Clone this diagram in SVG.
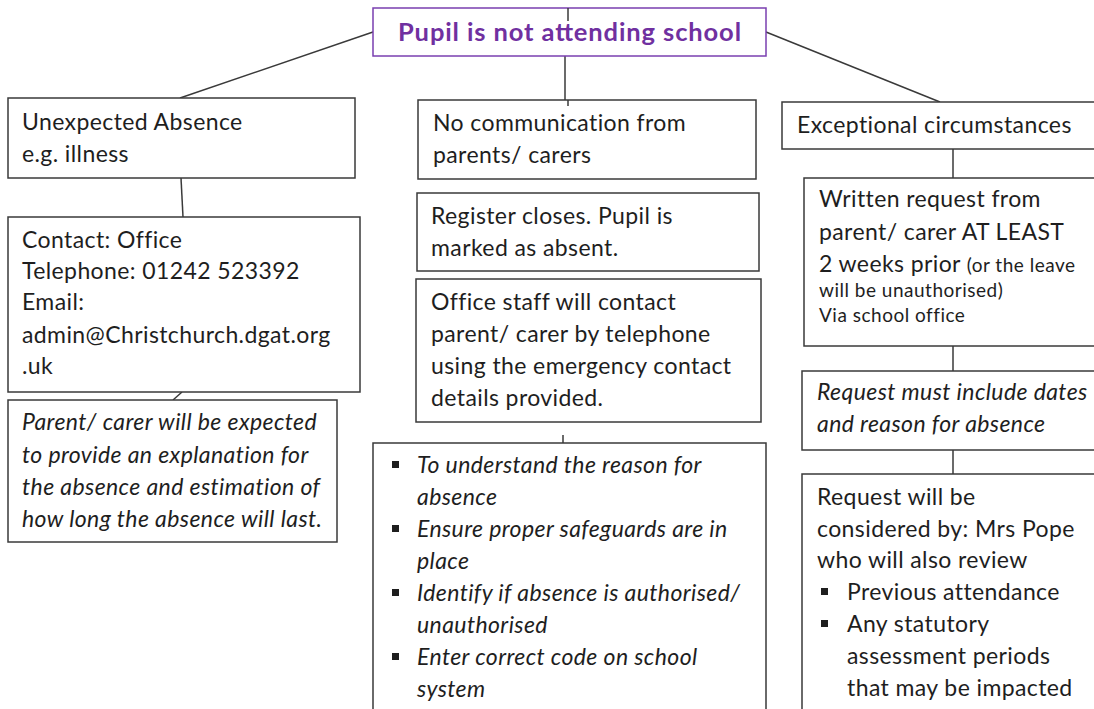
<svg xmlns="http://www.w3.org/2000/svg" width="1094" height="709" viewBox="0 0 1094 709">
<style>
.box{fill:#fff;stroke:#3a3a3a;stroke-width:1.5}
.t{font-family:Lato,"Open Sans",sans-serif;font-size:23px;letter-spacing:0.4px;fill:#1e1e1e}
.i{font-style:italic}
.s{font-size:19px;letter-spacing:0.5px}
.c{stroke:#3a3a3a;stroke-width:1.5;fill:none}
.b{fill:#1e1e1e}
</style>
<rect width="1094" height="709" fill="#fff"/>
<g id="connectors">
<line class="c" x1="373" y1="32" x2="180" y2="98"/>
<line class="c" x1="766" y1="32" x2="940" y2="102"/>
<line class="c" x1="565" y1="56" x2="565" y2="100"/>
<line class="c" x1="181" y1="178" x2="183" y2="217"/>
<line class="c" x1="182" y1="392" x2="173" y2="400"/>
<line class="c" x1="563" y1="435" x2="563" y2="443"/>
<line class="c" x1="953" y1="149" x2="953" y2="178"/>
<line class="c" x1="953" y1="346" x2="953" y2="371"/>
<line class="c" x1="953" y1="450" x2="953" y2="474"/>
</g>
<g id="top">
<rect x="373" y="8" width="393" height="48" fill="#fff" stroke="#7a3fb0" stroke-width="1.5"/>
<line class="c" x1="568" y1="8" x2="568" y2="21"/>
<text x="398" y="41" textLength="343" lengthAdjust="spacing" style="font-family:Lato,'Open Sans',sans-serif;font-size:25.5px;font-weight:bold;fill:#7030a0">Pupil is not attending school</text>
</g>
<g id="unexpected">
<rect class="box" x="8" y="98" width="347" height="80"/>
<text class="t" x="22" y="130">Unexpected Absence</text>
<text class="t" x="22" y="162">e.g. illness</text>
</g>
<g id="contact">
<rect class="box" x="8" y="217" width="352" height="175"/>
<text class="t" x="22" y="248">Contact: Office</text>
<text class="t" x="22" y="279">Telephone: 01242 523392</text>
<text class="t" x="22" y="310">Email:</text>
<text class="t" x="22" y="343">admin@Christchurch.dgat.org</text>
<text class="t" x="22" y="374">.uk</text>
</g>
<g id="parent">
<rect class="box" x="8" y="400" width="329" height="142"/>
<text class="t i" x="22" y="430">Parent/ carer will be expected</text>
<text class="t i" x="22" y="463">to provide an explanation for</text>
<text class="t i" x="22" y="495">the absence and estimation of</text>
<text class="t i" x="22" y="527">how long the absence will last.</text>
</g>
<g id="nocomm">
<rect class="box" x="418" y="100" width="338" height="79"/>
<line class="c" x1="568" y1="100" x2="568" y2="106"/>
<text class="t" x="433" y="131">No communication from</text>
<text class="t" x="433" y="163">parents/ carers</text>
</g>
<g id="register">
<rect class="box" x="417" y="193" width="342" height="78"/>
<text class="t" x="431" y="224">Register closes. Pupil is</text>
<text class="t" x="431" y="256">marked as absent.</text>
</g>
<g id="office">
<rect class="box" x="416" y="279" width="345" height="143"/>
<text class="t" x="431" y="310">Office staff will contact</text>
<text class="t" x="431" y="342">parent/ carer by telephone</text>
<text class="t" x="431" y="374">using the emergency contact</text>
<text class="t" x="431" y="406">details provided.</text>
</g>
<g id="reasons">
<path class="box" d="M373,712 V443 H766 V712"/>
<rect class="b" x="392" y="461" width="7" height="7"/>
<rect class="b" x="392" y="525" width="7" height="7"/>
<rect class="b" x="392" y="589" width="7" height="7"/>
<rect class="b" x="392" y="653" width="7" height="7"/>
<text class="t i" x="417" y="473">To understand the reason for</text>
<text class="t i" x="417" y="505">absence</text>
<text class="t i" x="417" y="537">Ensure proper safeguards are in</text>
<text class="t i" x="417" y="569">place</text>
<text class="t i" x="417" y="601">Identify if absence is authorised/</text>
<text class="t i" x="417" y="633">unauthorised</text>
<text class="t i" x="417" y="665">Enter correct code on school</text>
<text class="t i" x="417" y="697">system</text>
</g>
<g id="exceptional">
<rect class="box" x="782" y="102" width="320" height="47"/>
<text class="t" x="797" y="133">Exceptional circumstances</text>
</g>
<g id="written">
<rect class="box" x="804" y="178" width="300" height="168"/>
<text class="t" x="819" y="207">Written request from</text>
<text class="t" x="819" y="240">parent/ carer AT LEAST</text>
<text class="t" x="819" y="272">2 weeks prior <tspan class="s">(or the leave</tspan></text>
<text class="t s" x="819" y="297">will be unauthorised)</text>
<text class="t s" x="819" y="322">Via school office</text>
</g>
<g id="include">
<rect class="box" x="802" y="371" width="300" height="79"/>
<text class="t i" x="817" y="400">Request must include dates</text>
<text class="t i" x="817" y="432">and reason for absence</text>
</g>
<g id="considered">
<path class="box" d="M802,712 V474 H1100"/>
<text class="t" x="817" y="505">Request will be</text>
<text class="t" x="817" y="537">considered by: Mrs Pope</text>
<text class="t" x="817" y="568">who will also review</text>
<rect class="b" x="821" y="588" width="7" height="7"/>
<rect class="b" x="821" y="620" width="7" height="7"/>
<text class="t" x="847" y="600">Previous attendance</text>
<text class="t" x="847" y="632">Any statutory</text>
<text class="t" x="847" y="664">assessment periods</text>
<text class="t" x="847" y="696">that may be impacted</text>
</g>
</svg>
